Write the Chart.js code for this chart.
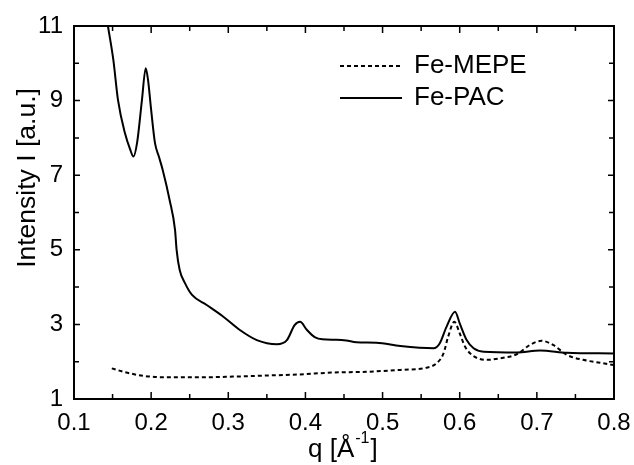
<!DOCTYPE html>
<html>
<head>
<meta charset="utf-8">
<title>Fe-MEPE / Fe-PAC</title>
<script src="https://cdn.jsdelivr.net/npm/chart.js@4/dist/chart.umd.min.js"></script>
<style>
    html, body { margin: 0; padding: 0; background: #fff; }
    #wrap { width: 634px; height: 465px; }
</style>
</head>
<body>
<div id="wrap"><canvas id="saxsChart" width="634" height="465"></canvas></div>
<script>
// Data
var qPac = [0.144, 0.151, 0.157, 0.166, 0.173, 0.177, 0.182, 0.188, 0.193, 0.196, 0.200, 0.205, 0.210, 0.215, 0.224,
    0.231, 0.233, 0.237, 0.244, 0.253, 0.272, 0.294, 0.315, 0.337, 0.363, 0.376, 0.386, 0.393, 0.402, 0.412,
    0.422, 0.440, 0.453, 0.466, 0.492, 0.523, 0.566, 0.574, 0.583, 0.594, 0.600, 0.609, 0.618, 0.631, 0.674, 0.704,
    0.739, 0.800];
var intensityPac = [11.0, 10.09, 9.02, 8.13, 7.68, 7.50, 7.90, 9.00, 9.87, 9.55, 8.75, 7.86, 7.50, 7.14, 6.33,
    5.53, 5.00, 4.46, 4.10, 3.79, 3.52, 3.20, 2.85, 2.58, 2.47, 2.58, 2.98, 3.07, 2.85, 2.66,
    2.60, 2.59, 2.57, 2.52, 2.51, 2.42, 2.36, 2.49, 2.94, 3.34, 3.03, 2.58, 2.36, 2.27, 2.25, 2.30,
    2.24, 2.22];
var qMepe = [0.149, 0.168, 0.190, 0.220, 0.263, 0.306, 0.350, 0.393, 0.436, 0.479, 0.523, 0.557, 0.570, 0.579,
    0.585, 0.593, 0.600, 0.607, 0.618, 0.635, 0.652, 0.674, 0.691, 0.706, 0.721, 0.739, 0.760, 0.782, 0.800];
var intensityMepe = [1.82, 1.71, 1.62, 1.58, 1.58, 1.60, 1.63, 1.66, 1.71, 1.73, 1.78, 1.84, 1.96, 2.22,
    2.67, 3.07, 2.76, 2.40, 2.15, 2.05, 2.09, 2.20, 2.45, 2.56, 2.45, 2.18, 2.05, 1.97, 1.91];
var seriesNames = ['Fe-MEPE', 'Fe-PAC'];
var xTickValues = [0.1, 0.2, 0.3, 0.4, 0.5, 0.6, 0.7, 0.8];
var xTickLabels = ['0.1', '0.2', '0.3', '0.4', '0.5', '0.6', '0.7', '0.8'];
var yTickValues = [1, 3, 5, 7, 9, 11];
var yTickLabels = ['1', '3', '5', '7', '9', '11'];

var FONT = "'Liberation Sans', Arial, sans-serif";
var MEPE_DASH = [4, 3];

function toPoints(xs, ys) {
    var pts = [];
    for (var i = 0; i < xs.length; i++) {
        pts.push({ x: xs[i], y: ys[i] });
    }
    return pts;
}

// Frame, inward ticks (major + minor), axis titles and the legend
var framePlugin = {
    id: 'frame',
    afterDraw: function(chart) {
        var ctx = chart.ctx;
        var a = chart.chartArea;
        var xs = chart.scales.x;
        var ys = chart.scales.y;
        ctx.save();
        ctx.strokeStyle = '#000';
        ctx.lineWidth = 1.5;
        ctx.beginPath();
        var i, v, px;
        for (i = 0; i < xTickValues.length; i++) {
            v = xTickValues[i];
            px = xs.getPixelForValue(v);
            if (i > 0 && i < xTickValues.length - 1) {
                ctx.moveTo(px, a.bottom); ctx.lineTo(px, a.bottom - 7);
                ctx.moveTo(px, a.top); ctx.lineTo(px, a.top + 7);
            }
            if (i < xTickValues.length - 1) {
                px = xs.getPixelForValue(v + 0.05);
                ctx.moveTo(px, a.bottom); ctx.lineTo(px, a.bottom - 5);
                ctx.moveTo(px, a.top); ctx.lineTo(px, a.top + 5);
            }
        }
        for (i = 0; i < yTickValues.length; i++) {
            v = yTickValues[i];
            px = ys.getPixelForValue(v);
            if (i > 0 && i < yTickValues.length - 1) {
                ctx.moveTo(a.left, px); ctx.lineTo(a.left + 6, px);
                ctx.moveTo(a.right, px); ctx.lineTo(a.right - 6, px);
            }
            if (i < yTickValues.length - 1) {
                px = ys.getPixelForValue(v + 1);
                ctx.moveTo(a.left, px); ctx.lineTo(a.left + 5, px);
                ctx.moveTo(a.right, px); ctx.lineTo(a.right - 5, px);
            }
        }
        ctx.stroke();

        ctx.lineWidth = 2;
        ctx.strokeRect(a.left, a.top, a.right - a.left, a.bottom - a.top);

        ctx.fillStyle = '#000';

        // y title (sits a bit above the plot centre in the original)
        ctx.save();
        ctx.translate(35, 178);
        ctx.rotate(-Math.PI / 2);
        ctx.font = '26.5px ' + FONT;
        ctx.textAlign = 'center';
        ctx.textBaseline = 'alphabetic';
        ctx.fillText('Intensity I [a.u.]', 0, 0);
        ctx.restore();

        // x title with superscript
        ctx.textAlign = 'left';
        ctx.textBaseline = 'alphabetic';
        var tx = 308;
        ctx.font = '26px ' + FONT;
        ctx.fillText('q [Å', tx, 457);
        tx += ctx.measureText('q [Å').width + 1;
        ctx.font = '16px ' + FONT;
        ctx.fillText('-1', tx, 443);
        tx += ctx.measureText('-1').width + 1;
        ctx.font = '26px ' + FONT;
        ctx.fillText(']', tx, 457);

        // legend
        var rows = [{ y: 66, dash: MEPE_DASH }, { y: 98, dash: [] }];
        ctx.font = '26px ' + FONT;
        ctx.textBaseline = 'middle';
        for (i = 0; i < rows.length; i++) {
            ctx.setLineDash(rows[i].dash);
            ctx.lineWidth = 2;
            ctx.beginPath();
            ctx.moveTo(340, rows[i].y);
            ctx.lineTo(402, rows[i].y);
            ctx.stroke();
            ctx.setLineDash([]);
            ctx.fillText(seriesNames[i], 414, rows[i].y);
        }
        ctx.restore();
    }
};

var ctx = document.getElementById('saxsChart').getContext('2d');
var saxsChart = new Chart(ctx, {
    type: 'line',
    data: {
        datasets: [{
            label: seriesNames[0],
            data: toPoints(qMepe, intensityMepe),
            borderColor: '#000',
            borderWidth: 2,
            borderDash: MEPE_DASH,
            pointRadius: 0,
            cubicInterpolationMode: 'monotone',
            fill: false
        }, {
            label: seriesNames[1],
            data: toPoints(qPac, intensityPac),
            borderColor: '#000',
            borderWidth: 2,
            pointRadius: 0,
            cubicInterpolationMode: 'monotone',
            fill: false
        }]
    },
    options: {
        responsive: false,
        animation: false,
        devicePixelRatio: 1,
        layout: { padding: { top: 26, right: 20, left: 0, bottom: 0 } },
        plugins: {
            legend: { display: false },
            tooltip: { enabled: false }
        },
        scales: {
            x: {
                type: 'linear',
                min: 0.1,
                max: 0.8,
                grid: { display: false, drawTicks: false },
                border: { display: false },
                afterFit: function(scale) {
                    scale.height = 66;
                    scale.paddingLeft = 0;
                    scale.paddingRight = 0;
                },
                afterBuildTicks: function(scale) {
                    scale.ticks = xTickValues.map(function(v) { return { value: v }; });
                },
                ticks: {
                    padding: 10,
                    maxRotation: 0,
                    color: '#000',
                    font: { family: FONT, size: 24 },
                    callback: function(value) {
                        var idx = xTickValues.indexOf(value);
                        return idx === -1 ? '' : xTickLabels[idx];
                    }
                }
            },
            y: {
                type: 'linear',
                min: 1,
                max: 11,
                grid: { display: false, drawTicks: false },
                border: { display: false },
                afterFit: function(scale) {
                    scale.width = 74;
                    scale.paddingTop = 0;
                    scale.paddingBottom = 0;
                },
                afterBuildTicks: function(scale) {
                    scale.ticks = yTickValues.map(function(v) { return { value: v }; });
                },
                ticks: {
                    padding: 11,
                    color: '#000',
                    font: { family: FONT, size: 24 },
                    callback: function(value) {
                        var idx = yTickValues.indexOf(value);
                        return idx === -1 ? '' : yTickLabels[idx];
                    }
                }
            }
        }
    },
    plugins: [framePlugin]
});
</script>
</body>
</html>
